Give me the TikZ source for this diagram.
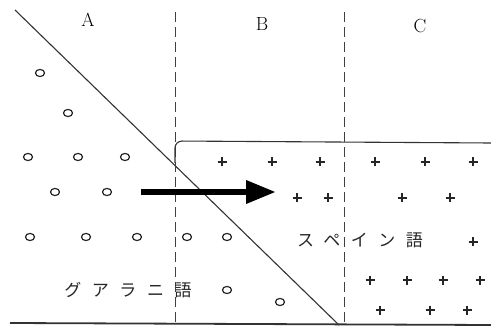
\documentclass[tikz,border=0pt]{standalone}
\usepackage{fontspec}
\usetikzlibrary{arrows.meta}
\newfontfamily\jpfont[LetterSpace=62]{Noto Sans CJK JP}

\begin{document}
\begin{tikzpicture}[x=1pt,y=-1pt,
		lbl/.style={font=\fontsize{19}{19}\selectfont},
		jp/.style={font=\jpfont\fontsize{17}{17}\selectfont, text=black!85},
		sep/.style={draw=black!75, line width=0.9pt, dash pattern=on 10pt off 5pt},
		rim/.style={draw=black!80, line width=1.1pt},
		maru/.style={draw=black!85, line width=1.2pt},
		juji/.style={draw=black!85, line width=1.1pt}]
				\useasboundingbox (0,0) rectangle (491,329);
				% boundaries
				\draw[rim] (15,10) -- (339,325);
				\draw[sep] (175,12) -- (175,325);
				\draw[sep] (344,12) -- (344,325);
				\draw[rim, rounded corners=7pt] (175,163) -- (175,141) -- (491,143);
				\draw[rim, line width=1.8pt] (10,323) -- (491,325);
				% regions
				\node[lbl] (A) at (88,20) {A};
				\node[lbl] (B) at (262,24) {B};
				\node[lbl] (C) at (420,26) {C};
				% guarani speakers
				\foreach \x/\y in {40/73, 68/113, 28/157, 78/157, 125/157, 55/192, 107/192,
						30/237, 86/237, 137/237, 187/237, 227/237, 227/290, 280/302}
				\draw[maru] (\x,\y) ellipse (4.5pt and 3.6pt);
				% spanish speakers
				\foreach \x/\y in {222/162, 272/162, 320/162, 375/162, 425/162, 473/162,
						297/198, 328/198, 402/198, 450/198, 473/242,
						370/280, 407/280, 443/280, 480/280, 380/310, 430/310, 467/310}
				\draw[juji] (\x-4.5,\y) -- (\x+4.5,\y) (\x,\y-4.5) -- (\x,\y+4.5);
				\node[jp] (gua) at (128,290) {グアラニ語};
				\node[jp] (esp) at (360,240) {スペイン語};
				% shift
				\coordinate (arrS) at (141,192);
				\coordinate (arrE) at (276,192);
				\draw[line width=6.5pt, -{Triangle[length=30pt, width=22pt]}] (arrS) -- (arrE);
			\end{tikzpicture}
\end{document}
